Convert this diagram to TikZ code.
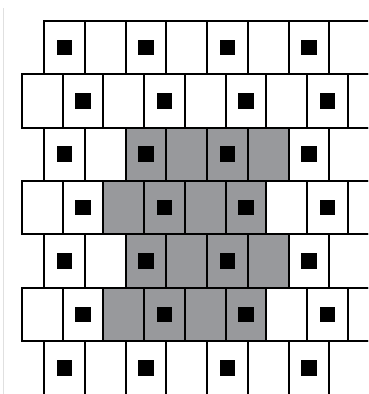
\documentclass[tikz,border=0pt]{standalone}
\usepackage{tikz}
\usetikzlibrary{positioning}
\definecolor{blockgray}{RGB}{152,153,156}
\tikzset{
    cellbox/.style={draw=black, line width=2pt, minimum width=40.7pt, minimum height=53.4pt, inner sep=0pt, outer sep=0pt},
    grayblock/.style={cellbox, fill=blockgray},
    sqdot/.style={fill=black, minimum size=15.5pt, inner sep=0pt, outer sep=0pt}
}

\begin{document}
\begin{tikzpicture}[x=1pt, y=-1pt]
    \useasboundingbox (0,0) rectangle (368,394);
    \clip (0,0) rectangle (368,393);
    \draw[black!12, line width=1pt] (3,8) -- (3,394);
    % odd rows start further right
    \foreach \r in {1,3,5,7} {
        \foreach \c in {0,...,7} {
            \node[cellbox] (cell-\r-\c) at ({64.65+40.7*\c},{47.4+53.4*(\r-1)}) {};
        }
    }
    % even rows
    \foreach \r in {2,4,6} {
        \foreach \c in {0,...,8} {
            \node[cellbox] (cell-\r-\c) at ({42.35+40.7*\c},{47.4+53.4*(\r-1)}) {};
        }
    }
    % shaded block in the middle
    \foreach \r in {3,...,6} {
        \foreach \c in {2,...,5} {
            \node[grayblock] (gray-\r-\c) at (cell-\r-\c) {};
        }
    }
    % black squares
    \foreach \r in {1,3,5,7} {
        \foreach \c in {0,2,4,6} {
            \node[sqdot] (dot-\r-\c) at (cell-\r-\c) {};
        }
    }
    \foreach \r in {2,4,6} {
        \foreach \c in {1,3,5,7} {
            \node[sqdot] (dot-\r-\c) at (cell-\r-\c) {};
        }
    }
\end{tikzpicture}
\end{document}
